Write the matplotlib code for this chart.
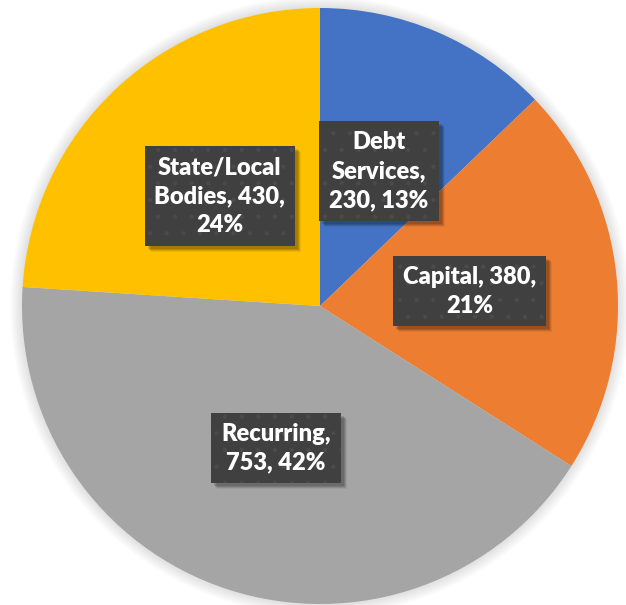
import matplotlib
matplotlib.use("Agg")
import matplotlib.pyplot as plt
from matplotlib.patches import Circle, Rectangle
from matplotlib.transforms import IdentityTransform

categories = ["Debt Services", "Capital", "Recurring", "State/Local Bodies"]
values = [230, 380, 753, 430]
colors = ["#4472C4", "#ED7D31", "#A5A5A5", "#FFC000"]
label_texts = ["Debt\nServices,\n230, 13%", "Capital, 380,\n21%", "Recurring,\n753, 42%", "State/Local\nBodies, 430,\n24%"]
label_pos = [(0.198, 0.453), (0.503, 0.050), (-0.148, -0.477), (-0.336, 0.369)]

plt.rcParams['hatch.color'] = '#4b4b4b'
plt.rcParams['hatch.linewidth'] = 0.6

W, H = 626, 605
cx, cy, R = 320, 306, 298
fig = plt.figure(figsize=(W / 100, H / 100), dpi=100)
ax = fig.add_axes([0, 0, 1, 1])

# soft outer glow around the pie
for k in range(10, 0, -1):
    ax.add_patch(Circle((0, 0), 1 + k * 0.004, color='#000000', alpha=0.012, lw=0, zorder=0))

ax.pie(values, startangle=90, counterclock=False, colors=colors, radius=1,
       wedgeprops=dict(linewidth=0), center=(0, 0), frame=True)
ax.set_xlim(-cx / R, (W - cx) / R)
ax.set_ylim(-(H - cy) / R, cy / R)
ax.set_aspect('auto')
ax.axis('off')

fs, ls, pad = 17, 1.38, 0.42
texts = []
for txt, (x, y) in zip(label_texts, label_pos):
    t = ax.text(x, y, txt, ha='center', va='center', color='white', fontsize=fs,
                fontweight='heavy', family='Lato', linespacing=ls, zorder=5,
                bbox=dict(boxstyle=f'square,pad={pad}', fc='#404040', ec='#4b4b4b',
                          lw=0, hatch='.'))
    texts.append(t)

# blurred drop shadows under label boxes
fig.canvas.draw()
for t in texts:
    bb = t.get_bbox_patch().get_window_extent()
    for (dx, dy, a) in [(3, -3, 0.12), (4, -4, 0.12), (5, -5, 0.10), (6, -6, 0.06)]:
        ax.add_artist(Rectangle((bb.x0 + dx, bb.y0 + dy), bb.width, bb.height,
                                transform=IdentityTransform(), fc=(0, 0, 0, a),
                                ec='none', lw=0, zorder=4))

fig.savefig("out.png", dpi=100)
